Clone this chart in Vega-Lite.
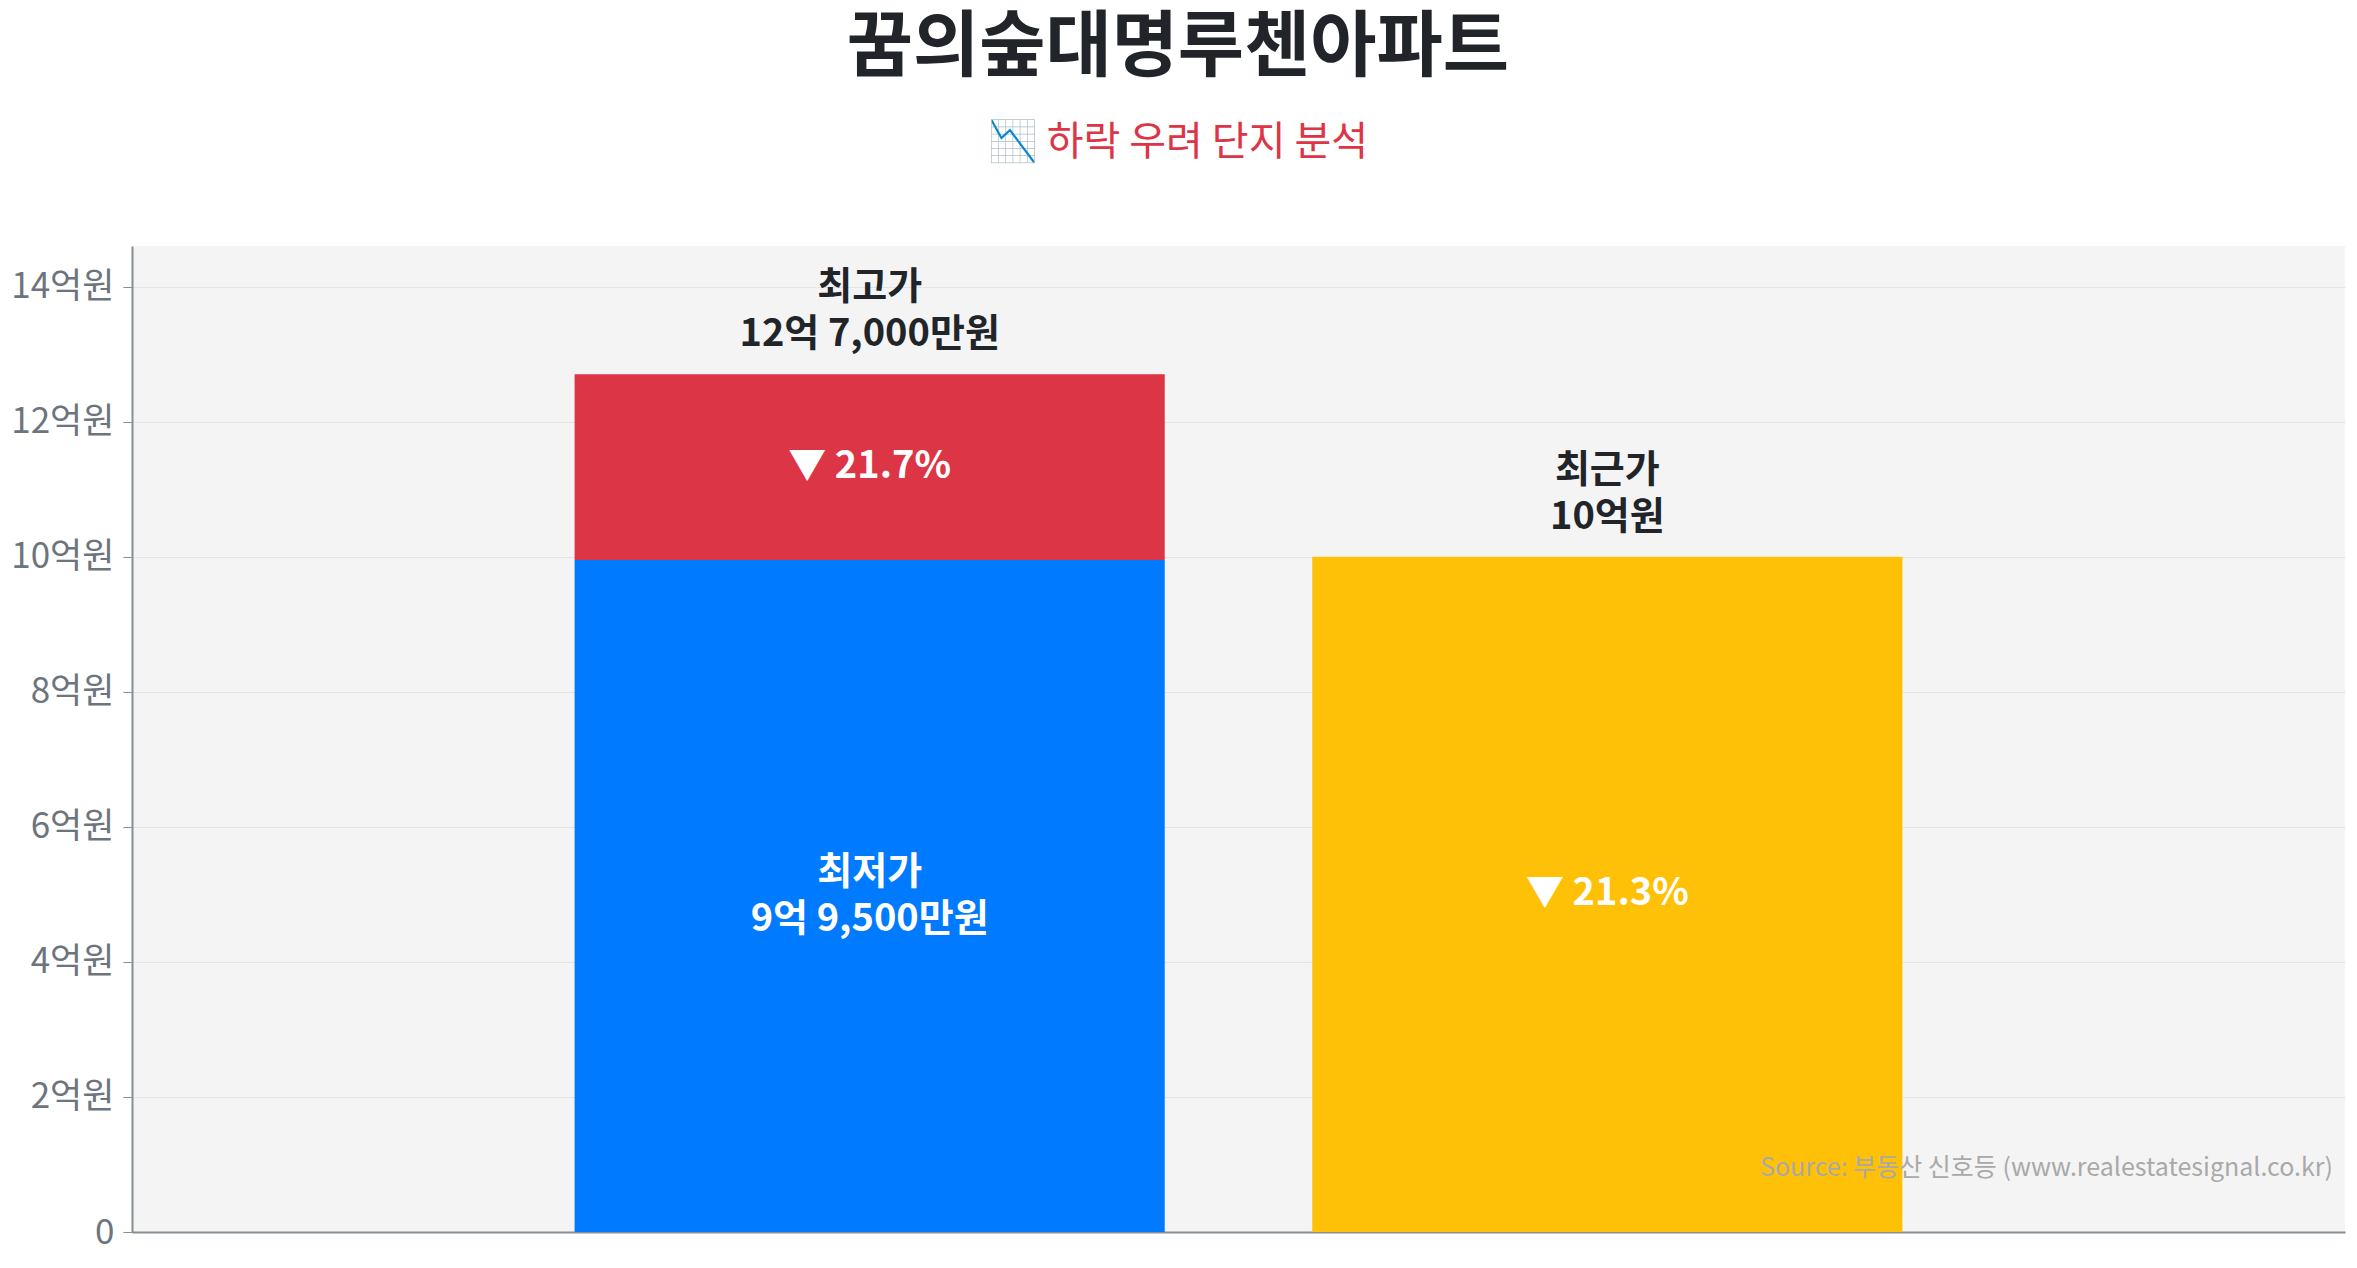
{
  "$schema": "https://vega.github.io/schema/vega-lite/v6.json",
  "width": 2357,
  "height": 1268,
  "autosize": {"type": "fit", "contains": "padding"},
  "padding": {"left": 10, "right": 12, "top": 12, "bottom": 18},
  "background": "white",
  "title": {
    "text": "꿈의숲대명루첸아파트",
    "subtitle": "📉 하락 우려 단지 분석",
    "anchor": "middle",
    "frame": "bounds",
    "font": "Noto Sans CJK KR",
    "fontSize": 72,
    "fontWeight": "bold",
    "color": "#212529",
    "subtitleFont": "Noto Sans CJK KR",
    "subtitleFontSize": 40,
    "subtitleColor": "#dc3545",
    "subtitlePadding": 38,
    "offset": 82
  },
  "datasets": {
    "bars": [
      {"bar": "최고가", "seg": "최저가", "lo": 0, "hi": 9.95},
      {"bar": "최고가", "seg": "최고가", "lo": 9.95, "hi": 12.7},
      {"bar": "최근가", "seg": "최근가", "lo": 0, "hi": 10}
    ],
    "above": [
      {"bar": "최고가", "label": ["최고가", "12억 7,000만원"], "y": 12.7},
      {"bar": "최근가", "label": ["최근가", "10억원"], "y": 10}
    ],
    "change": [
      {"bar": "최고가", "label": "▼ 21.7%", "y": 11.325},
      {"bar": "최근가", "label": "▼ 21.3%", "y": 5}
    ],
    "low": [
      {"bar": "최고가", "label": ["최저가", "9억 9,500만원"], "y": 4.975}
    ],
    "source": [
      {"label": "Source: 부동산 신호등 (www.realestatesignal.co.kr)", "y": 1}
    ]
  },
  "encoding": {
    "x": {
      "field": "bar",
      "type": "nominal",
      "sort": ["최고가", "최근가"],
      "scale": {"domain": ["최고가", "최근가"], "paddingInner": 0.2, "paddingOuter": 0.6},
      "axis": {"labels": false, "ticks": false, "title": null, "domainColor": "#868e96", "domainWidth": 2}
    }
  },
  "layer": [
    {
      "data": {"name": "bars"},
      "mark": {"type": "bar", "cornerRadius": 0},
      "encoding": {
        "y": {
          "field": "hi",
          "type": "quantitative",
          "scale": {"domain": [0, 14.6], "nice": false},
          "axis": {
            "title": null,
            "values": [0, 2, 4, 6, 8, 10, 12, 14],
            "labelExpr": "datum.value == 0 ? '0' : datum.value + '억원'",
            "labelFont": "Noto Sans CJK KR",
            "labelFontSize": 35,
            "labelColor": "#6c757d",
            "labelPadding": 9,
            "tickColor": "#868e96",
            "tickSize": 9,
            "domainColor": "#868e96",
            "domainWidth": 2,
            "gridColor": "#e4e4e4",
            "gridWidth": 1
          }
        },
        "y2": {"field": "lo"},
        "color": {
          "field": "seg",
          "type": "nominal",
          "scale": {"domain": ["최저가", "최고가", "최근가"], "range": ["#007bff", "#dc3545", "#ffc107"]},
          "legend": null
        }
      }
    },
    {
      "data": {"name": "above"},
      "mark": {"type": "text", "baseline": "bottom", "dy": -67, "font": "Noto Sans CJK KR", "fontSize": 38, "fontWeight": "bold", "color": "#212529", "lineHeight": 47},
      "encoding": {
        "y": {"field": "y", "type": "quantitative"},
        "text": {"field": "label"}
      }
    },
    {
      "data": {"name": "change"},
      "mark": {"type": "text", "baseline": "middle", "font": "Noto Sans CJK KR", "fontSize": 38, "fontWeight": "bold", "color": "white"},
      "encoding": {
        "y": {"field": "y", "type": "quantitative"},
        "text": {"field": "label"}
      }
    },
    {
      "data": {"name": "low"},
      "mark": {"type": "text", "baseline": "middle", "dy": -23, "font": "Noto Sans CJK KR", "fontSize": 38, "fontWeight": "bold", "color": "white", "lineHeight": 47},
      "encoding": {
        "y": {"field": "y", "type": "quantitative"},
        "text": {"field": "label"}
      }
    },
    {
      "data": {"name": "source"},
      "mark": {"type": "text", "align": "right", "baseline": "middle", "dx": -12, "dy": 4, "font": "Noto Sans CJK KR", "fontSize": 25, "color": "#a9a9a9"},
      "encoding": {
        "x": {"value": "width"},
        "y": {"field": "y", "type": "quantitative"},
        "text": {"field": "label"}
      }
    }
  ],
  "config": {
    "view": {"stroke": null, "fill": "#f4f4f4"}
  }
}
